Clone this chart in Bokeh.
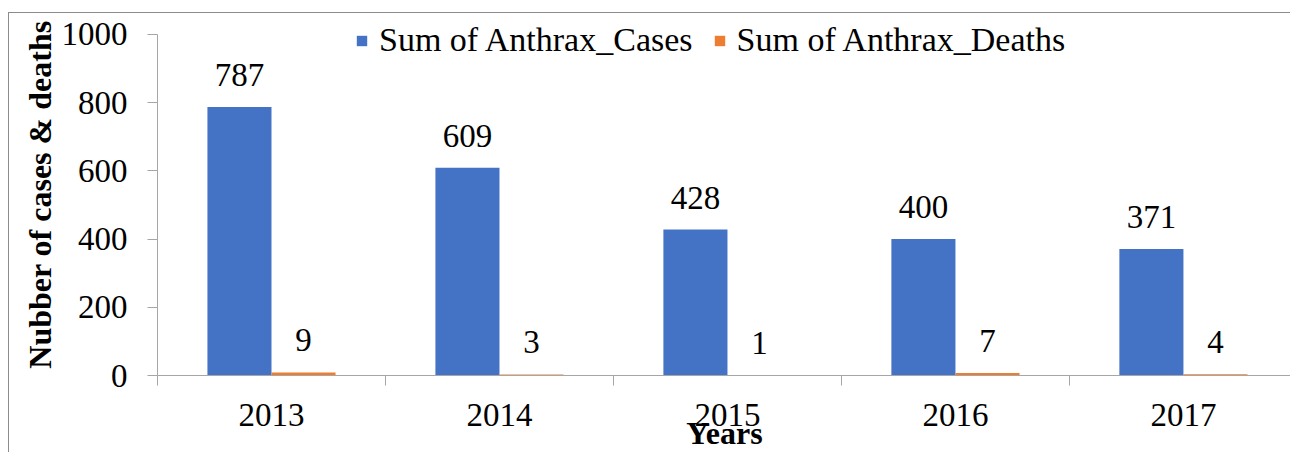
from bokeh.plotting import figure
from bokeh.models import (ColumnDataSource, Range1d, FixedTicker, LinearAxis, Legend, LegendItem)
from bokeh.core.properties import value
from bokeh.embed import file_html
from bokeh.resources import INLINE

years = ["2013", "2014", "2015", "2016", "2017"]
cases = [787, 609, 428, 400, 371]
deaths = [9, 3, 1, 7, 4]
series_names = ["Sum of Anthrax_Cases", "Sum of Anthrax_Deaths"]
y_ticks = [0, 200, 400, 600, 800, 1000]

FONT = "Liberation Serif"
BLUE = "#4472C4"
ORANGE = "#ED7D31"
AXIS = "#A6A6A6"

idx = list(range(len(years)))
bar_w = 0.281
src = ColumnDataSource(dict(
    xc=[i + 0.5 - bar_w / 2 for i in idx],
    xd=[i + 0.5 + bar_w / 2 for i in idx],
    cases=cases, deaths=deaths,
    lc=[str(v) for v in cases], ld=[str(v) for v in deaths],
))

p = figure(width=1282, height=440, output_backend="svg", toolbar_location=None,
           x_range=Range1d(0, 4.974), y_range=Range1d(0, 1061.4),
           min_border_left=148, min_border_right=0, min_border_top=0, min_border_bottom=77,
           x_axis_type=None, y_axis_type=None,
           styles={"border-left": "1px solid #8c8c8c", "border-top": "1px solid #8c8c8c",
                   "margin-top": "12px", "margin-left": "8px"})
p.outline_line_color = None
p.xgrid.visible = False
p.ygrid.visible = False

# y axis
ya = LinearAxis(ticker=FixedTicker(ticks=y_ticks), bounds=(0, 1000))
ya.axis_line_color = AXIS
ya.major_tick_line_color = AXIS
ya.major_tick_out = 10
ya.major_tick_in = 0
ya.minor_tick_line_color = None
ya.major_label_text_font = FONT
ya.major_label_text_font_size = "33px"
ya.major_label_text_color = "black"
ya.major_label_standoff = 20
ya.axis_label = "Nubber of cases & deaths"
ya.axis_label_text_font = FONT
ya.axis_label_text_font_style = "bold"
ya.axis_label_text_font_size = "32px"
ya.axis_label_text_color = "black"
ya.axis_label_standoff = 1
p.add_layout(ya, "left")

# x axis: labels at category centres, boundary ticks as minor ticks
xl = LinearAxis(ticker=FixedTicker(ticks=[i + 0.5 for i in idx],
                                   minor_ticks=list(range(len(years) + 1))))
xl.major_label_overrides = {i + 0.5: y for i, y in zip(idx, years)}
xl.axis_line_color = AXIS
xl.major_tick_line_color = None
xl.major_tick_out = 0
xl.major_tick_in = 0
xl.minor_tick_line_color = AXIS
xl.minor_tick_out = 10
xl.minor_tick_in = 0
xl.major_label_text_font = FONT
xl.major_label_text_font_size = "33px"
xl.major_label_text_color = "black"
xl.major_label_standoff = 18
xl.axis_label = "Years"
xl.axis_label_text_font = FONT
xl.axis_label_text_font_style = "bold"
xl.axis_label_text_font_size = "32px"
xl.axis_label_text_color = "black"
xl.axis_label_standoff = -14
p.add_layout(xl, "below")

r1 = p.vbar(x="xc", top="cases", width=bar_w, source=src, fill_color=BLUE, line_color=None)
r2 = p.vbar(x="xd", top="deaths", width=bar_w, source=src, fill_color=ORANGE, line_color=None)

for xcol, ycol, lcol in (("xc", "cases", "lc"), ("xd", "deaths", "ld")):
    p.text(x=xcol, y=ycol, text=lcol, source=src, text_align="center",
           text_baseline="alphabetic", y_offset=-32,
           text_font=value(FONT), text_font_size="33px", text_color="black")

legend = Legend(items=[LegendItem(label=series_names[0], renderers=[r1]),
                       LegendItem(label=series_names[1], renderers=[r2])],
                location=(198, 316), orientation="horizontal")
legend.label_text_font = FONT
legend.label_text_font_size = "34px"
legend.label_text_color = "black"
legend.glyph_width = 13
legend.glyph_height = 13
legend.label_height = 32
legend.label_standoff = 11
legend.spacing = 20
legend.padding = 0
legend.margin = 0
legend.border_line_color = None
legend.background_fill_alpha = 0
p.add_layout(legend, "center")

open("out.html", "w").write(file_html(p, INLINE))
